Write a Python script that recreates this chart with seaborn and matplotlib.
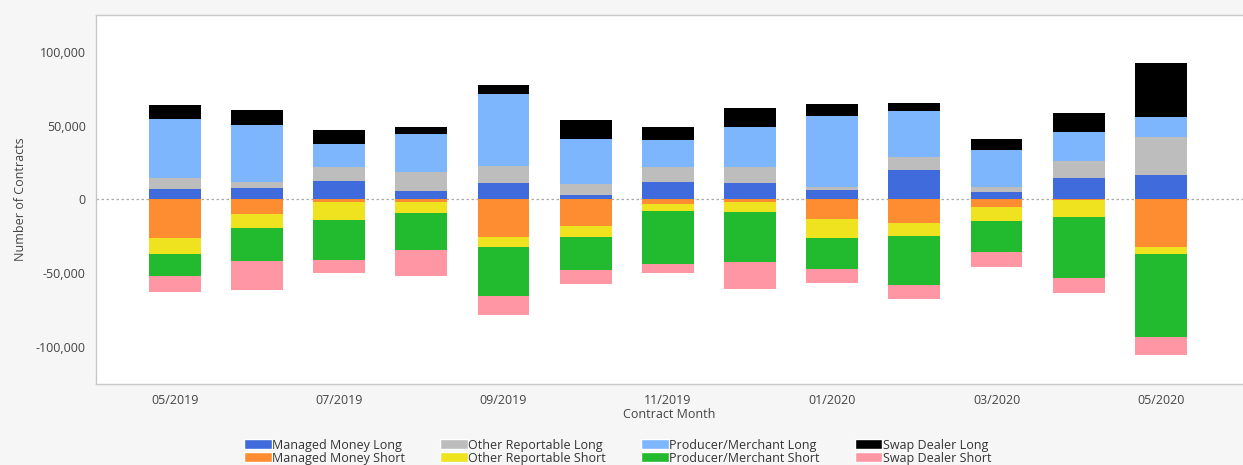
import numpy as np
import pandas as pd
import matplotlib
matplotlib.use("Agg")
import matplotlib.pyplot as plt
import seaborn as sns
from matplotlib.patches import Patch
from matplotlib.ticker import FuncFormatter, MultipleLocator

# Contract months and positions (thousands of contracts)
months = ["05/2019", "06/2019", "07/2019", "08/2019", "09/2019", "10/2019", "11/2019",
          "12/2019", "01/2020", "02/2020", "03/2020", "04/2020", "05/2020"]

managed_money_long = [7.3, 7.9, 12.2, 5.9, 11.3, 2.9, 12.0, 10.9, 6.3, 20.0, 4.8, 14.3, 16.3]
other_reportable_long = [7.4, 3.9, 10.0, 12.5, 11.1, 7.7, 9.8, 10.9, 2.3, 8.6, 3.6, 11.6, 25.9]
producer_merchant_long = [39.7, 38.5, 15.2, 25.9, 49.2, 30.2, 18.4, 27.4, 47.8, 31.1, 25.2, 19.5, 13.6]
swap_dealer_long = [9.5, 10.2, 10.0, 4.8, 5.7, 13.2, 8.8, 12.7, 8.4, 5.7, 7.5, 13.2, 36.5]

managed_money_short = [25.9, 9.8, 1.6, 2.0, 25.4, 18.1, 3.2, 1.8, 12.9, 15.6, 5.0, 0.5, 32.2]
other_reportable_short = [10.9, 9.5, 12.0, 7.3, 6.8, 7.0, 4.3, 6.8, 13.4, 8.8, 9.3, 11.3, 5.0]
producer_merchant_short = [14.9, 22.4, 27.7, 25.2, 33.1, 22.9, 36.5, 33.8, 20.9, 33.3, 21.3, 41.5, 55.8]
swap_dealer_short = [11.1, 19.7, 8.2, 17.0, 13.2, 9.3, 5.9, 17.9, 9.3, 9.8, 10.4, 10.0, 12.5]

long_series = [
    ("Managed Money Long", managed_money_long, "#3f6bdc"),
    ("Other Reportable Long", other_reportable_long, "#bdbdbd"),
    ("Producer/Merchant Long", producer_merchant_long, "#7db6fc"),
    ("Swap Dealer Long", swap_dealer_long, "#000000"),
]
short_series = [
    ("Managed Money Short", managed_money_short, "#fe8d32"),
    ("Other Reportable Short", other_reportable_short, "#efe21e"),
    ("Producer/Merchant Short", producer_merchant_short, "#22ba2e"),
    ("Swap Dealer Short", swap_dealer_short, "#fe96a4"),
]

sns.set_theme(style="white")
plt.rcParams["font.family"] = ["Open Sans", "DejaVu Sans"]

fig = plt.figure(figsize=(12.43, 4.65), dpi=100, facecolor="#f6f6f6")
ax = fig.add_axes([96 / 1243, 1 - 384 / 465, 1 - 96 / 1243, (384 - 15) / 465])
ax.set_facecolor("white")

# stacked bars: draw cumulative totals from the top layer down so the lower layers sit on top
for series, sign in [(long_series, 1), (short_series, -1)]:
    cum = np.cumsum([np.array(vals) * 1000 for _, vals, _ in series], axis=0) * sign
    for i in range(len(series) - 1, -1, -1):
        df = pd.DataFrame({"month": months, "value": cum[i]})
        sns.barplot(data=df, x="month", y="value", color=series[i][2], width=0.63,
                    saturation=1, linewidth=0, ax=ax, order=months)

ax.axhline(0, color="#aaaaaa", lw=0.9, ls=(0, (2, 2)), zorder=0.5)

ax.set_ylim(-125000, 125000)
ax.set_xlim(-0.96, 13.0)
ax.yaxis.set_major_locator(MultipleLocator(50000))
ax.yaxis.set_minor_locator(MultipleLocator(25000))
ax.yaxis.set_major_formatter(FuncFormatter(lambda v, p: f"{v:,.0f}"))
ax.set_xticks(range(0, 13, 2), labels=months[::2])
ax.set_xticks(range(1, 13, 2), minor=True)

ax.tick_params(axis="both", which="both", direction="out", color="#c8c8c8",
               labelsize=9, labelcolor="#444444")
ax.tick_params(axis="both", which="major", length=4, width=0.8)
ax.tick_params(axis="both", which="minor", length=3, width=0.8)
ax.tick_params(axis="x", pad=3)

for side in ["left", "top", "bottom"]:
    ax.spines[side].set_color("#c8c8c8")
    ax.spines[side].set_linewidth(1)
ax.spines["right"].set_visible(False)

ax.set_xlabel("Contract Month", fontsize=9, color="#444444", labelpad=1)
ax.set_ylabel("Number of Contracts", fontsize=9, color="#444444", labelpad=6)

handles = []
for (ln, _, lc), (sn, _, sc) in zip(long_series, short_series):
    handles.append(Patch(facecolor=lc, label=ln))
    handles.append(Patch(facecolor=sc, label=sn))
fig.legend(handles=handles, ncol=4, loc="lower center", bbox_to_anchor=(0.497, -0.018),
           frameon=False, fontsize=9, handlelength=2.2, handleheight=0.85,
           handletextpad=0.05, columnspacing=2.8, labelspacing=0.0,
           borderaxespad=0.3, labelcolor="#333333")

fig.savefig("out.png", dpi=100, facecolor=fig.get_facecolor())
